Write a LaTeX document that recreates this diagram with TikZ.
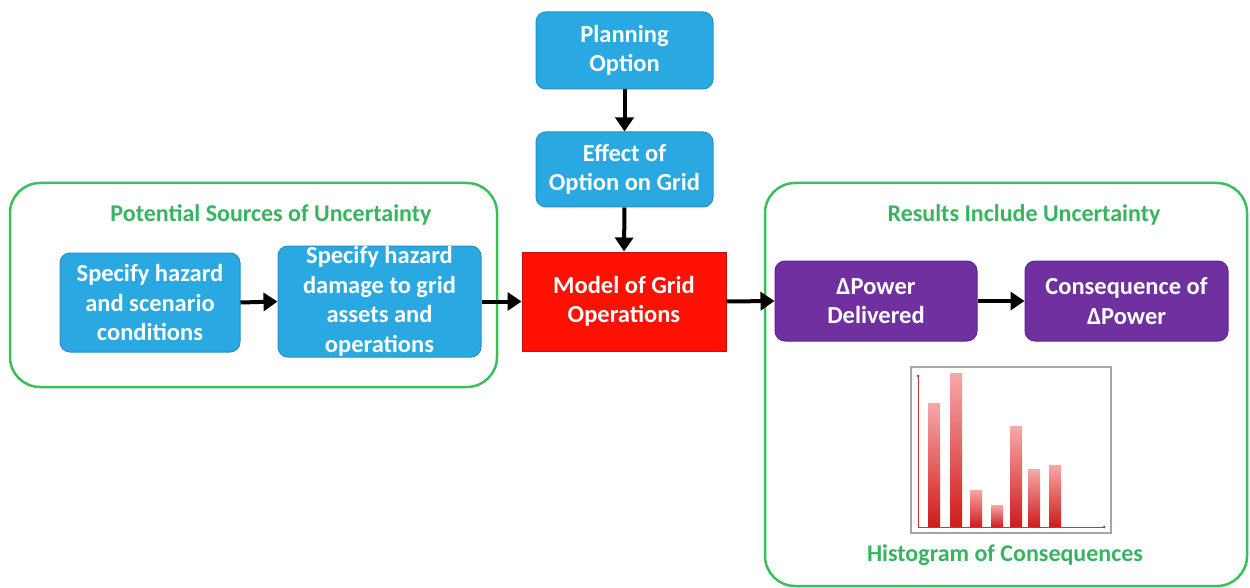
\documentclass[tikz,border=0pt]{standalone}
\usepackage{fontspec}
\setmainfont{Carlito}
\usetikzlibrary{arrows.meta}
\definecolor{bluefill}{HTML}{2AA8E2}
\definecolor{blueline}{HTML}{2390C4}
\definecolor{purp}{HTML}{7030A0}
\definecolor{purpline}{HTML}{5E2490}
\definecolor{grn}{HTML}{3DBE5C}
\definecolor{grntext}{HTML}{36B45E}
\definecolor{redfill}{HTML}{FF1000}
\definecolor{redline}{HTML}{C81010}
\definecolor{barlight}{HTML}{F7A8A8}
\definecolor{bardark}{HTML}{D01A1A}
\tikzset{
  boxtext/.style={text=white,font=\bfseries\fontsize{24.5}{29.5}\selectfont,align=center,inner sep=0pt},
  bluebox/.style={boxtext,draw=blueline,fill=bluefill,line width=1pt,rounded corners=10pt},
  purpbox/.style={boxtext,draw=purpline,fill=purp,line width=1pt,rounded corners=10pt},
  redbox/.style={boxtext,draw=redline,fill=redfill,line width=1pt},
  container/.style={draw=grn,line width=2.5pt,rounded corners=30pt},
  gtitle/.style={text=grntext,font=\bfseries\fontsize{24}{28}\selectfont,inner sep=0pt},
  arr/.style={line width=4pt,-{Triangle[length=14pt,width=18pt]}},
  bar/.style={top color=barlight,bottom color=bardark,draw=none}
}
\begin{document}
\begin{tikzpicture}[x=1pt,y=-1pt]
\useasboundingbox (0,0) rectangle (1250,588);
% containers
\draw[container] (10,183) rectangle (497,387);
\draw[container] (765,183) rectangle (1247,586);
\node[gtitle] (t1) at (271,215) {Potential Sources of Uncertainty};
\node[gtitle] (t2) at (1024,215) {Results Include Uncertainty};
% top column
\node[bluebox,minimum width=177pt,minimum height=77pt] (plan) at (624.5,50.5) {Planning\\Option};
\node[bluebox,minimum width=177pt,minimum height=75pt] (effect) at (624.5,169.5) {Effect of\\Option on Grid};
\node[redbox,minimum width=204pt,minimum height=99pt] (model) at (624,301.5) {Model of Grid\\Operations};
% left
\node[bluebox,minimum width=180pt,minimum height=99pt] (spec1) at (150,302.5) {Specify hazard\\and scenario\\conditions};
\node[bluebox,minimum width=203pt,minimum height=111pt] (spec2) at (379.5,301.5) {Specify hazard\\damage to grid\\assets and\\operations};
% right
\node[purpbox,minimum width=202pt,minimum height=80pt] (dp) at (876,301) {ΔPower\\Delivered};
\node[purpbox,minimum width=203pt,minimum height=80pt] (cons) at (1126.5,301) {Consequence of\\ΔPower};
% arrows
\draw[arr] (plan.south) -- (effect.north);
\draw[arr] (effect.south) -- (model.north);
\draw[arr] (spec1.east) -- (spec2.west);
\draw[arr] (spec2.east) -- (model.west);
\draw[arr] (model.east) -- (dp.west);
\draw[arr] (dp.east) -- (cons.west);
% histogram
\node[draw=gray!70,line width=1.5pt,fill=white,minimum width=200pt,minimum height=166pt,inner sep=0pt] (hist) at (1011,450) {};
\fill[bar] (928,403) rectangle (940,527);
\fill[bar] (950,373) rectangle (962,527);
\fill[bar] (970,490) rectangle (982,527);
\fill[bar] (991,505) rectangle (1003,527);
\fill[bar] (1010,426) rectangle (1022,527);
\fill[bar] (1028,469) rectangle (1040,527);
\fill[bar] (1049,465) rectangle (1061,527);
\coordinate (orig) at (918,527);
\coordinate (ytop) at (918,376);
\coordinate (xend) at (1104,527);
\draw[line width=0.8pt,draw=red!60!gray] (ytop) -- (orig) -- (xend);
\fill[red!60!gray] (ytop) circle (1.5pt);
\fill[red!60!gray] (xend) circle (1.5pt);
\node[gtitle] (htitle) at (1005,555) {Histogram of Consequences};
\end{tikzpicture}
\end{document}
